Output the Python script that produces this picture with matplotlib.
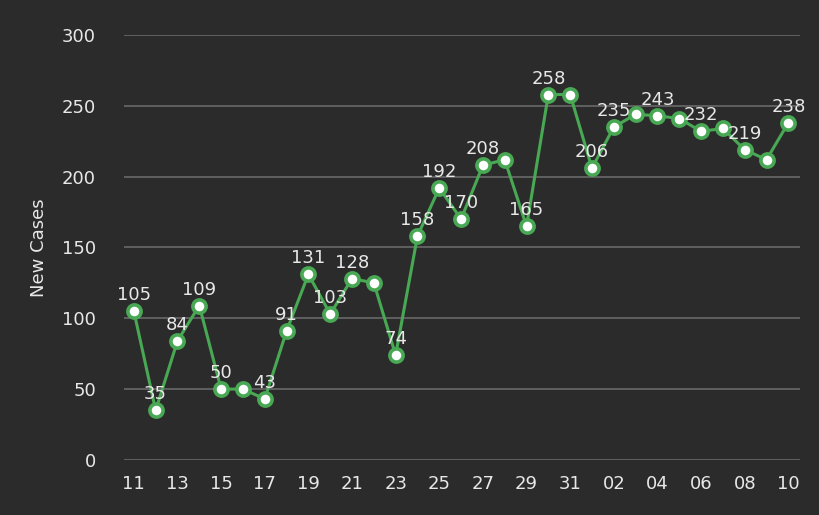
import os
import matplotlib
matplotlib.use("Agg")
import matplotlib.pyplot as plt
from matplotlib import font_manager

_p = os.path.join(matplotlib.get_data_path(), "fonts", "ttf", "DejaVuSans.ttf")
if os.path.exists(_p):
    font_manager.fontManager.addfont(_p)
    _name = font_manager.FontProperties(fname=_p).get_name()
else:
    _name = "DejaVu Sans"
plt.rcParams["font.family"] = [_name]

days = ["11","12","13","14","15","16","17","18","19","20","21","22","23","24","25","26",
        "27","28","29","30","31","01","02","03","04","05","06","07","08","09","10"]
cases = [105, 35, 84, 109, 50, 50, 43, 91, 131, 103, 128, 125, 74, 158, 192, 170,
         208, 212, 165, 258, 258, 206, 235, 244, 243, 241, 232, 234, 219, 212, 238]
labelled = {0, 1, 2, 3, 4, 6, 7, 8, 9, 10, 12, 13, 14, 15, 16, 18, 19, 21, 22, 24, 26, 28, 30}
yticks = [0, 50, 100, 150, 200, 250, 300]

bg = "#2b2b2b"
fg = "#e8e8e8"
green = "#48a854"

fig = plt.figure(figsize=(8.2, 5.15), dpi=100, facecolor=bg)
ax = fig.add_axes([0.151, 0.107, 0.825, 0.825], facecolor=bg)

x = list(range(len(days)))
ax.plot(x, cases, color=green, lw=2.2, marker="o", ms=9.5, mfc="white",
        mec=green, mew=2.6, zorder=3)

for i in sorted(labelled):
    ax.annotate(str(cases[i]), (i, cases[i]), xytext=(0, 5), textcoords="offset points",
                ha="center", va="bottom", color=fg, fontsize=13, zorder=4)

ax.set_ylim(0, 300)
ax.set_xlim(-0.46, 30.55)
ax.set_yticks(yticks)
ax.set_xticks(x[::2])
ax.set_xticklabels(days[::2])
ax.grid(axis="y", color="#646464", lw=1.3)
ax.set_axisbelow(True)
for s in ax.spines.values():
    s.set_visible(False)
ax.tick_params(axis="both", length=0, colors=fg, labelsize=13, pad=11)
ax.tick_params(axis="y", pad=20)
ax.set_ylabel("New Cases", color=fg, fontsize=13, labelpad=10)

fig.savefig("out.png", dpi=100, facecolor=bg)
